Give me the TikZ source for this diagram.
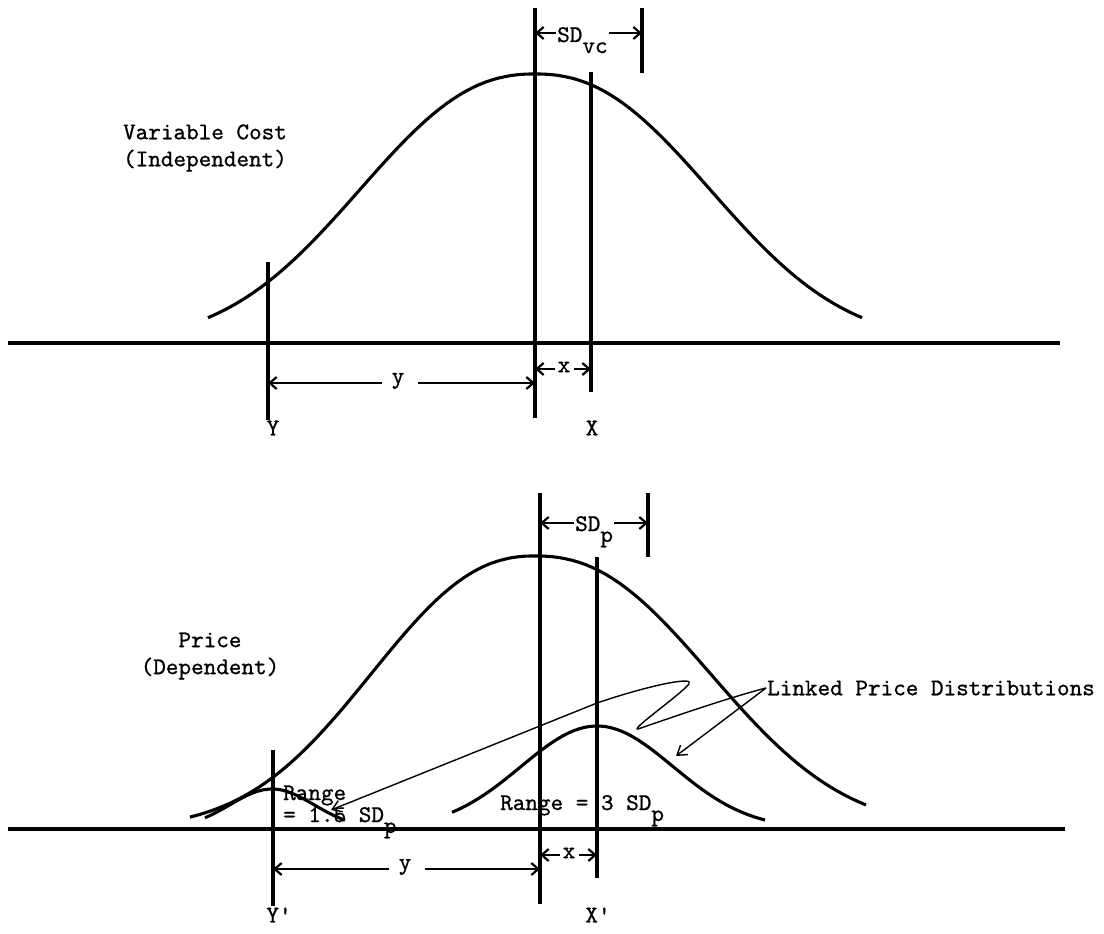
\documentclass[tikz,border=0pt]{standalone}
\usepackage{fontspec}
\setmonofont{lmmono10-regular.otf}[FakeBold=0.8]
\usepackage{tikz}
\usetikzlibrary{positioning,arrows.meta}

\tikzset{
  curve/.style={line width=3.1pt},
  rule/.style={line width=3.1pt},
  dim/.style={line width=2.2pt,-{Straight Barb[length=7pt,width=12pt,line width=2.2pt]}},
  lead/.style={line width=1.4pt},
  lbl/.style={font=\fontsize{24}{27}\selectfont\ttfamily,inner sep=1pt},
}

\begin{document}
\begin{tikzpicture}[x=1pt,y=-1pt]
\useasboundingbox (0,0) rectangle (1104,934);
% variable cost (top)
\draw[rule] (8,343) -- (1060,343);
\draw[curve] plot[domain=208:862,samples=100] (\x,{343-269*exp(-(abs(\x-535)/225)^2.3)});
\draw[rule] (535,8) -- (535,418);
\draw[rule] (591,72) -- (591,392);
\draw[rule] (642,8) -- (642,73);
\draw[rule] (268,262) -- (268,420);
\coordinate (sdL) at (535,33);
\coordinate (sdR) at (642,33);
\node[lbl,anchor=base west] (sdvc) at (556,42) {SD\raisebox{-11pt}{vc}};
\draw[dim] (sdvc.west |- sdL) -- (sdL);
\draw[dim] (sdvc.east |- sdR) -- (sdR);
\node[lbl,align=center] (vc) at (205,148) {Variable Cost\\(Independent)};
\coordinate (yL) at (268,383);
\coordinate (yR) at (535,383);
\node[lbl] (ylab) at (398,381) {y};
\draw[dim] (ylab.west) ++(-9,0) coordinate (ya) (ya |- yL) -- (yL);
\draw[dim] (ylab.east) ++(12,0) coordinate (yb) (yb |- yR) -- (yR);
\coordinate (xL) at (535,369);
\coordinate (xR) at (591,369);
\node[lbl] (xlab) at (564,367) {x};
\draw[dim] (xlab.west) ++(-2,0) coordinate (xa) (xa |- xL) -- (xL);
\draw[dim] (xlab.east) ++(2,0) coordinate (xb) (xb |- xR) -- (xR);
\node[lbl] (Y) at (273,428) {Y};
\node[lbl] (X) at (592,428) {X};
% price (bottom)
\draw[rule] (8,829) -- (1065,829);
\draw[curve] plot[domain=190:866,samples=100] (\x,{829-273*exp(-(abs(\x-535)/((\x<535)*210+(\x>=535)*225))^2.3)});
\draw[curve] plot[domain=452:765,samples=60] (\x,{829-103*exp(-0.5*((\x-597)/76)^2)});
\draw[curve] plot[domain=205:345,samples=40] (\x,{829-40*exp(-0.5*((\x-272)/42)^2)});
\draw[rule] (540,493) -- (540,904);
\draw[rule] (597,557) -- (597,878);
\draw[rule] (648,493) -- (648,557);
\draw[rule] (273,750) -- (273,906);
\coordinate (spL) at (540,523);
\coordinate (spR) at (648,523);
\node[lbl,anchor=base west] (sdp) at (574,531) {SD\raisebox{-11pt}{p}};
\draw[dim] (sdp.west |- spL) -- (spL);
\draw[dim] (sdp.east |- spR) -- (spR);
\node[lbl,align=center] (pr) at (210,656) {Price\\(Dependent)};
\node[lbl,anchor=base west] (rng1) at (282,800) {Range};
\node[lbl,anchor=base west] (rng1b) at (282,822) {= 1.5 SD\raisebox{-11pt}{p}};
\node[lbl,anchor=base west] (rng3) at (499,810) {Range = 3 SD\raisebox{-11pt}{p}};
\node[lbl,anchor=west] (link) at (766,688) {Linked Price Distributions};
\draw[lead,-{Straight Barb[length=9pt,width=12pt]}] (link.west) .. controls (720,700) and (650,725) .. (638,729)
  .. controls (630,730) and (680,695) .. (689,684) .. controls (695,676) and (650,685) .. (597,703) -- (331,810);
\draw[lead,-{Straight Barb[length=9pt,width=12pt]}] (link.west) -- (676,756);
\coordinate (ypL) at (273,869);
\coordinate (ypR) at (540,869);
\node[lbl] (yplab) at (405,867) {y};
\draw[dim] (yplab.west) ++(-9,0) coordinate (ypa) (ypa |- ypL) -- (ypL);
\draw[dim] (yplab.east) ++(12,0) coordinate (ypb) (ypb |- ypR) -- (ypR);
\coordinate (xpL) at (540,855);
\coordinate (xpR) at (597,855);
\node[lbl] (xplab) at (569,853) {x};
\draw[dim] (xplab.west) ++(-2,0) coordinate (xpa) (xpa |- xpL) -- (xpL);
\draw[dim] (xplab.east) ++(2,0) coordinate (xpb) (xpb |- xpR) -- (xpR);
\node[lbl] (Yp) at (279,915) {Y'};
\node[lbl] (Xp) at (598,915) {X'};
\end{tikzpicture}
\end{document}
